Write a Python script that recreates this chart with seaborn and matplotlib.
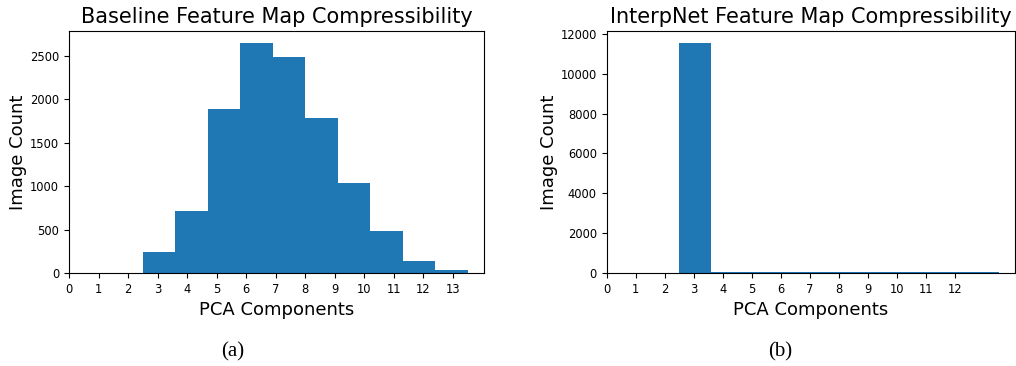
import numpy as np
import matplotlib
matplotlib.use('Agg')
import matplotlib.pyplot as plt
import seaborn as sns

# bin edges and counts
bin_edges = [2.5, 3.6, 4.7, 5.8, 6.9, 8.0, 9.1, 10.2, 11.3, 12.4, 13.5]
baseline_counts = [247, 713, 1881, 2648, 2488, 1778, 1034, 484, 144, 38]
interpnet_counts = [11565, 45, 40, 40, 35, 35, 30, 30, 30, 30]
baseline_ticks = list(range(14))
interpnet_ticks = list(range(13))

centers = [(a + b) / 2 for a, b in zip(bin_edges[:-1], bin_edges[1:])]

fig = plt.figure(figsize=(10.16, 3.66), dpi=100)
ax1 = fig.add_axes([0.0679, 0.254, 0.4085, 0.661])
ax2 = fig.add_axes([0.597, 0.254, 0.4016, 0.661])

panels = [
    (ax1, baseline_counts, baseline_ticks, 'Baseline Feature Map Compressibility', '(a)', 0.229),
    (ax2, interpnet_counts, interpnet_ticks, 'InterpNet Feature Map Compressibility', '(b)', 0.768),
]

for ax, counts, ticks, title, tag, tag_x in panels:
    sns.histplot(x=centers, weights=counts, bins=bin_edges, ax=ax,
                 color='#1f77b4', alpha=1, linewidth=0)
    ax.set_xticks(ticks)
    ax.set_xlim(0, 14.05)
    ax.tick_params(labelsize=8.3)
    ax.set_title(title, fontsize=15)
    ax.set_xlabel('PCA Components', fontsize=13)
    ax.set_ylabel('Image Count', fontsize=13, labelpad=2)
    # subfigure caption under each panel
    fig.text(tag_x, 0.038, tag, ha='center', va='center',
             fontsize=15, family='Liberation Serif')

fig.savefig('out.png', dpi=100)
